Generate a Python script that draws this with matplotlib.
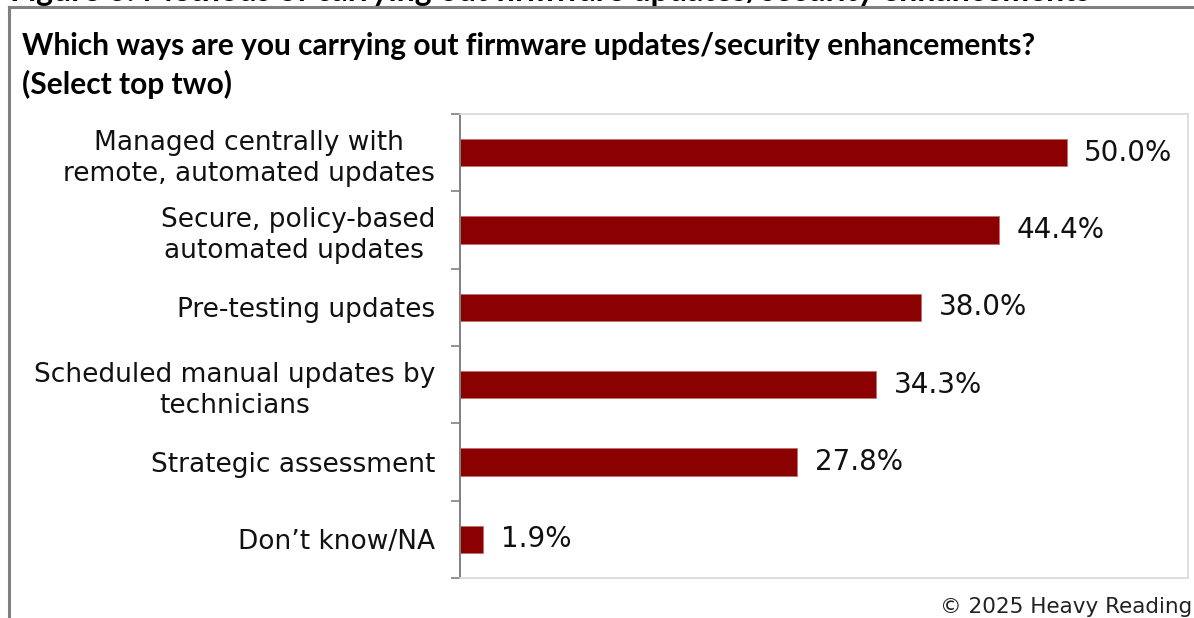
#!/usr/bin/env python3

import matplotlib
matplotlib.use("Agg")
import matplotlib.pyplot as plt
from matplotlib.lines import Line2D
from matplotlib.ticker import FixedLocator

# chart data
categories = [
    "Managed centrally with\nremote, automated updates",
    "Secure, policy-based\nautomated updates ",
    "Pre-testing updates",
    "Scheduled manual updates by\ntechnicians",
    "Strategic assessment",
    "Don\u2019t know/NA",
]
values = [50.0, 44.4, 38.0, 34.3, 27.8, 1.9]
value_labels = ["50.0%", "44.4%", "38.0%", "34.3%", "27.8%", "1.9%"]

question = "Which ways are you carrying out firmware updates/security enhancements?\n(Select top two)"
figure_caption = "Figure 6: Methods of carrying out firmware updates/security enhancements"
credit = "\u00a9 2025 Heavy Reading"

W, H = 1194, 618
fig = plt.figure(figsize=(W / 100, H / 100), dpi=100, facecolor="white")

# plot area in pixel coordinates of the reference
left, right, top, bottom = 460, 1188, 114, 578
ax = fig.add_axes([left / W, 1 - bottom / H, (right - left) / W, (bottom - top) / H])

pos = list(range(len(categories)))
ax.barh(pos, values, height=0.35, color="#8B0000", edgecolor="#c07070", linewidth=0.6)
ax.set_xlim(0, 60)
ax.set_ylim(len(categories) - 0.5, -0.5)

for p, v, lab in zip(pos, values, value_labels):
    ax.text(v + 1.45, p, lab, va="center", ha="left", fontsize=20, color="#111111",
            family="DejaVu Sans")

ax.set_yticks(pos)
ax.set_yticklabels(categories, fontsize=19, color="#111111", family="DejaVu Sans",
                   linespacing=1.25)
for t in ax.get_yticklabels():
    t.set_multialignment("center")
ax.tick_params(axis="y", which="major", length=0, pad=18)
ax.yaxis.set_minor_locator(FixedLocator([i - 0.5 for i in range(len(categories) + 1)]))
ax.tick_params(axis="y", which="minor", length=6.5, width=1.2, color="#808080")
ax.set_xticks([])

for s in ["top", "right", "bottom"]:
    ax.spines[s].set_color("#d9d9d9")
    ax.spines[s].set_linewidth(1.2)
ax.spines["left"].set_color("#808080")
ax.spines["left"].set_linewidth(1.4)

# outer frame (top and left edges only visible)
fig.add_artist(Line2D([9 / W, 1], [1 - 7 / H, 1 - 7 / H], color="#808080", lw=2.2,
                      transform=fig.transFigure))
fig.add_artist(Line2D([9 / W, 9 / W], [0, 1 - 7 / H], color="#808080", lw=2.2,
                      transform=fig.transFigure))

# caption of the page, mostly cut off at the top
fig.text(10 / W, 1 - 0.5 / H, figure_caption, ha="left", va="baseline", fontsize=23,
         fontweight="bold", family="Lato", color="black")

fig.text(22 / W, 1 - 32 / H, question, ha="left", va="top", fontsize=21.5,
         fontweight="bold", family="Lato", color="black", linespacing=1.4)

fig.text(1192 / W, 1 - 607 / H, credit, ha="right", va="center", fontsize=15.5,
         family="DejaVu Sans", color="#222222")

fig.savefig("out.png", dpi=100, facecolor="white")
